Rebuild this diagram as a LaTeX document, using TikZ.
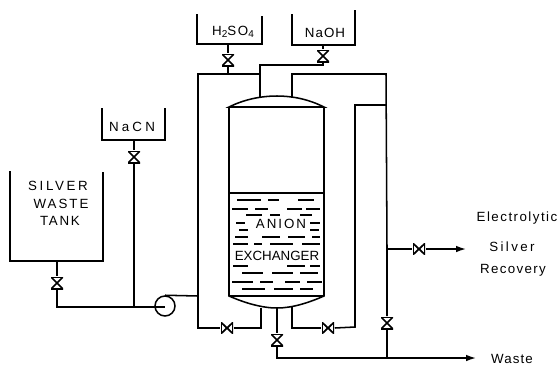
\documentclass[tikz,border=0pt]{standalone}
\usepackage{fontspec}
\setmainfont{Liberation Sans}
\usetikzlibrary{arrows.meta}
\tikzset{every picture/.style={line width=1.15pt}}
\tikzset{
  vvalve/.style={inner sep=0pt,minimum width=9pt,minimum height=9pt,path picture={
    \draw [line width=1.3pt] (path picture bounding box.north west) -- (path picture bounding box.south east) -- (path picture bounding box.south west) -- (path picture bounding box.north east) -- cycle ;}},
  hvalve/.style={inner sep=0pt,minimum width=9pt,minimum height=8.5pt,path picture={
    \draw [line width=1.3pt] (path picture bounding box.north west) -- (path picture bounding box.south east) -- (path picture bounding box.north east) -- (path picture bounding box.south west) -- cycle ;}},
  tag/.style={inner sep=0pt,font=\fontsize{10}{12}\selectfont\addfontfeature{LetterSpace=#1}},
  feed/.style={-{Latex[length=7.5pt,width=5pt]}}
}
\newcommand{\lowdigit}[1]{\raisebox{-2pt}{\fontsize{7.5}{8}\selectfont #1}}

\begin{document}
\begin{tikzpicture}[x=0.75pt,y=0.75pt,yscale=-1,xscale=1]
\useasboundingbox (0,0) rectangle (559,365);

%Tanks
\draw (10,171) -- (10,261) -- (103,261) -- (103,172) ;
\draw (102,108) -- (102,140) -- (165,140) -- (165,108) ;
\draw (197,14) -- (197,44) -- (262,44) -- (262,16) ;
\draw (292,14) -- (292,45) -- (355,45) -- (355,10) ;

%Column
\draw (229,107) -- (229,296) .. controls (245,303) and (262,308) .. (277,308) .. controls (292,308) and (308,303) .. (324,296) -- (324,107) ;
\draw (229,107) .. controls (245,99) and (262,96) .. (277,96) .. controls (292,96) and (308,99) .. (324,107) -- cycle ;
\draw (229,296) -- (324,296) ;
\draw (229,193) -- (324,193) ;

%Liquid level
\foreach \rowy/\rowx in {200/{237/261,268/279,298/314},209/{232/248,255/268,287/302,306/320},215/{246/262,270/280,300/312},223/{236/245,310/320},230/{239/248,310/319},237/{235/248,262/280,288/305,312/320},244/{233/248,254/262,270/293,302/320},266/{233/248,287/305,310/320},273/{242/263,272/293,300/318},282/{232/253,260/273,285/300,307/322},289/{242/265,274/293,300/313}}
  \foreach \xa/\xb in \rowx
    \draw [line width=1pt] (\xa,\rowy) -- (\xb,\rowy) ;

%Valves
\node [vvalve] (vwaste) at (57,283) {};
\node [vvalve] (vcyanide) at (134,157) {};
\node [vvalve] (vacid) at (228,60) {};
\node [vvalve] (vbase) at (323,56) {};
\node [hvalve] (vleft) at (227,328) {};
\node [hvalve] (vright) at (328,328) {};
\node [vvalve] (vdrain) at (277,340) {};
\node [vvalve] (vreturn) at (387,323) {};
\node [hvalve] (vsilver) at (419,249) {};

%Pump
\node [circle,draw,inner sep=0pt,minimum size=15pt] (pump) at (165,306) {};

%Junctions
\coordinate (wastetank) at (57,261);
\coordinate (wastecorner) at (57,307);
\coordinate (pumpin) at (165,307);
\coordinate (cyanidetank) at (134,140);
\coordinate (cyanidejoin) at (134,307);
\coordinate (pumpout) at (198,296);
\coordinate (acidtank) at (228,44);
\coordinate (acidjoin) at (228,74);
\coordinate (leftcorner) at (198,74);
\coordinate (leftbottom) at (198,328);
\coordinate (basetank) at (323,45);
\coordinate (basecorner) at (323,65);
\coordinate (topa) at (260,65);
\coordinate (topajoin) at (260,74);
\coordinate (topahead) at (260,97);
\coordinate (topb) at (292,97);
\coordinate (topbcorner) at (292,74);
\coordinate (rightcorner) at (386,74);
\coordinate (innerjoin) at (386,105);
\coordinate (innertop) at (355,105);
\coordinate (innerbottom) at (355,327);
\coordinate (rightjoin) at (292,328);
\coordinate (righthead) at (292,307);
\coordinate (lefthead) at (261,308);
\coordinate (leftjoin) at (261,328);
\coordinate (drainhead) at (277,308);
\coordinate (draincorner) at (277,358);
\coordinate (silverjoin) at (387,249);
\coordinate (returnjoin) at (387,358);
\coordinate (silverend) at (466,249);
\coordinate (wasteend) at (476,358);

%Pipes
\draw (wastetank) -- (vwaste.north) ;
\draw (vwaste.south) -- (wastecorner) -- (pumpin) ;
\draw (cyanidetank) -- (vcyanide.north) ;
\draw (vcyanide.south) -- (cyanidejoin) ;
\draw (pump.north) -- (pumpout) ;
\draw (acidtank) -- (vacid.north) ;
\draw (vacid.south) -- (acidjoin) ;
\draw (topajoin) -- (leftcorner) -- (leftbottom) -- (vleft.west) ;
\draw (vleft.east) -- (leftjoin) -- (lefthead) ;
\draw (basetank) -- (vbase.north) ;
\draw (vbase.south) -- (basecorner) -- (topa) -- (topahead) ;
\draw (topb) -- (topbcorner) -- (rightcorner) -- (silverjoin) -- (vreturn.north) ;
\draw (vreturn.south) -- (returnjoin) ;
\draw (innerjoin) -- (innertop) -- (innerbottom) -- (vright.east) ;
\draw (vright.west) -- (rightjoin) -- (righthead) ;
\draw (drainhead) -- (vdrain.north) ;
\draw [feed] (vdrain.south) -- (draincorner) -- (wasteend) ;
\draw (silverjoin) -- (vsilver.west) ;
\draw [feed] (vsilver.east) -- (silverend) ;

% Text Node
\node [tag=20] (silver) at (58,186) {SILVER};
\node [tag=15] (waste) at (61,204) {WASTE};
\node [tag=13] (tank) at (60,221) {TANK};
\node [tag=24] (nacn) at (132,127) {NaCN};
\node [tag=12] (acid) at (233,32) {H\lowdigit{2}SO\lowdigit{4}};
\node [tag=8] (base) at (325,33) {NaOH};
\node [tag=15] (anion) at (281,224) {ANION};
\node [tag=0] (exchanger) at (277,256) {EXCHANGER};
\node [tag=11] (electrolytic) at (517,218) {Electrolytic};
\node [tag=18] (silverrec) at (512,247) {Silver};
\node [tag=10] (recovery) at (513,270) {Recovery};
\node [tag=8] (wasteout) at (512,359) {Waste};

\end{tikzpicture}
\end{document}
